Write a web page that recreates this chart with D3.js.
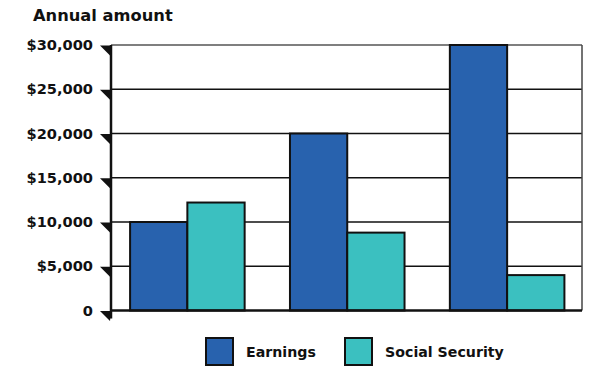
<!DOCTYPE html>
<html><head><meta charset="utf-8">
<script src="https://cdn.jsdelivr.net/npm/d3@7"></script>
<style>body{margin:0;background:#fff;} svg{display:block;font-family:"DejaVu Sans",Verdana,sans-serif;font-weight:bold;}</style>
</head><body><svg id="c" width="601" height="377"></svg>
<script>
const categories = ["Low earner", "Medium earner", "High earner"];
const seriesNames = ["Earnings", "Social Security"];
const earnings = [10000, 20000, 30000];
const socialSecurity = [12200, 8800, 4000];
const yTicks = [0, 5000, 10000, 15000, 20000, 25000, 30000];
const colors = ["#2862ae", "#3bc0c0"];

const svg = d3.select("#c");
const L = 111, R = 582, T = 45, B = 310.5;
const x0 = d3.scaleBand().domain(categories).range([L + 1.5, R]).paddingInner(0.2835).paddingOuter(0.11);
const x1 = d3.scaleBand().domain(seriesNames).range([0, x0.bandwidth()]);
const y = d3.scaleLinear().domain([0, 30000]).range([B, T]);

// gridlines
svg.append("g").selectAll("line").data(yTicks.filter(d => d > 0)).join("line")
  .attr("x1", L).attr("x2", R).attr("y1", d => y(d)).attr("y2", d => y(d))
  .attr("stroke", d => d === 30000 ? "#555" : "#111").attr("stroke-width", 1.5);
// right border
svg.append("line").attr("x1", R).attr("x2", R).attr("y1", T).attr("y2", B)
  .attr("stroke", "#444").attr("stroke-width", 1.5);

// bars
const data = categories.map((c, i) => ({c, vals: [earnings[i], socialSecurity[i]]}));
const g = svg.append("g").selectAll("g").data(data).join("g")
  .attr("transform", d => `translate(${x0(d.c)},0)`);
g.selectAll("rect").data(d => d.vals.map((v, j) => ({v, s: seriesNames[j], j}))).join("rect")
  .attr("x", d => x1(d.s)).attr("width", x1.bandwidth())
  .attr("y", d => y(d.v)).attr("height", d => B - y(d.v))
  .attr("fill", d => colors[d.j]).attr("stroke", "#111").attr("stroke-width", 2);

// axes lines
svg.append("line").attr("x1", L).attr("x2", R).attr("y1", B).attr("y2", B).attr("stroke", "#111").attr("stroke-width", 2.5);
svg.append("line").attr("x1", L).attr("x2", L).attr("y1", T).attr("y2", B + 8).attr("stroke", "#111").attr("stroke-width", 2.5);

// y axis labels via d3 axis
const yAxis = d3.axisLeft(y).tickValues(yTicks).tickSize(0).tickPadding(18)
  .tickFormat(d => d === 0 ? "0" : "$" + d3.format(",")(d));
const ya = svg.append("g").attr("transform", `translate(${L},0)`).call(yAxis);
ya.select(".domain").remove();
ya.selectAll("text").attr("font-size", 14.6).attr("font-weight", "bold")
  .attr("font-family", "DejaVu Sans, Verdana, sans-serif").attr("fill", "#111");
// triangle tick markers
ya.selectAll(".tick").append("path").attr("d", "M-11,0 L0,0 L-1,10 Z").attr("fill", "#111");

// title
svg.append("text").attr("x", 33).attr("y", 21).attr("font-size", 16.3).attr("fill", "#111").text("Annual amount");

// legend
const lg = svg.append("g").selectAll("g").data(seriesNames).join("g")
  .attr("transform", (d, i) => `translate(${[206, 345][i]},338)`);
lg.append("rect").attr("width", 27).attr("height", 27).attr("fill", (d, i) => colors[i]).attr("stroke", "#111").attr("stroke-width", 2);
lg.append("text").attr("x", 40).attr("y", 19).attr("font-size", 14.2).attr("fill", "#111").text(d => d);
</script></body></html>
